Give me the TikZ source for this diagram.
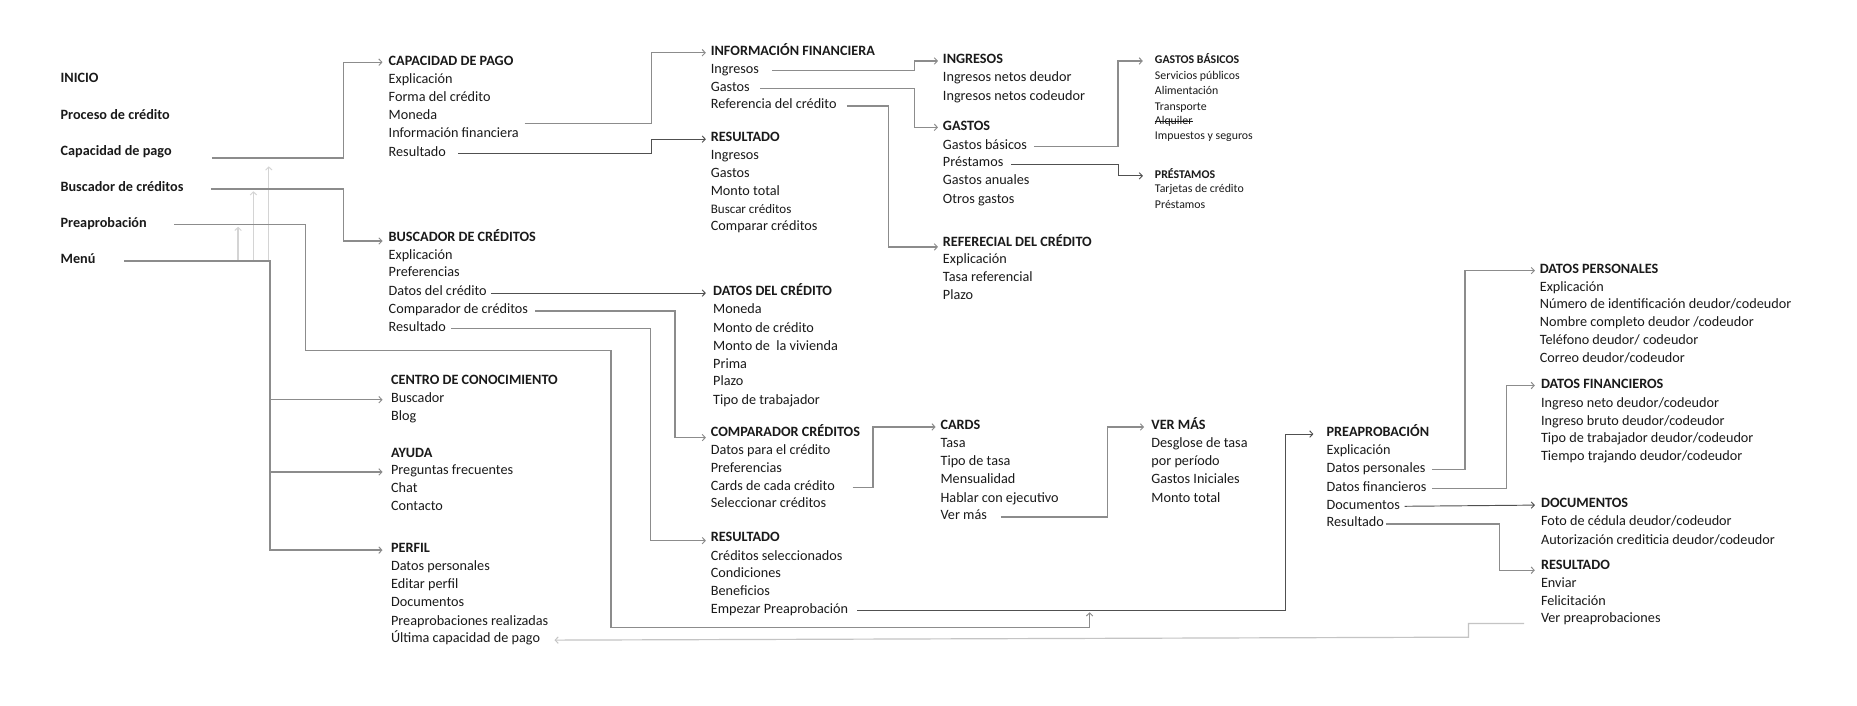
\documentclass[tikz,border=0pt]{standalone}
\usepackage{fontspec}
\setmainfont{Carlito}
\usetikzlibrary{arrows.meta,calc}
\definecolor{txt}{HTML}{1A1A1A}
\definecolor{lg}{HTML}{8C8C8C}
\definecolor{dk}{HTML}{505050}
\definecolor{vl}{HTML}{D4D4D4}
\definecolor{fb}{HTML}{C4C4C4}
\begin{document}
\begin{tikzpicture}[x=1pt,y=-1pt,
  it/.style={anchor=mid west,inner sep=0pt,yshift=-2.5pt,text=txt,font=\fontsize{12}{14}\selectfont},
  hd/.style={it,font=\fontsize{12}{14}\selectfont\bfseries},
  sm/.style={it,font=\fontsize{10}{12}\selectfont},
  smhd/.style={it,font=\fontsize{10}{12}\selectfont\bfseries},
  md/.style={it,font=\fontsize{11}{12}\selectfont},
  tipA/.style={-{Straight Barb[length=2.6pt,width=5.5pt,line width=0.8pt]}},
  conn/.style={draw=lg,line width=1.1pt,tipA},
  dconn/.style={draw=dk,line width=0.8pt,tipA},
  lconn/.style={draw=vl,line width=1pt,tipA},
  fconn/.style={draw=fb,line width=1pt,tipA}]
\useasboundingbox (0,0) rectangle (1568,596);
\fill[white] (0,0) rectangle (1568,596);

% left column
\node[hd] (inicio) at (51,65) {INICIO};
\node[hd] (proceso) at (51,96) {Proceso de crédito};
\node[hd] (capacidad) at (51,126) {Capacidad de pago};
\node[hd] (buscador) at (51,157) {Buscador de créditos};
\node[hd] (preap) at (51,187) {Preaprobación};
\node[hd] (menu) at (51,218) {Menú};

% capacidad de pago
\node[hd] (cpH) at (328,50) {CAPACIDAD DE PAGO};
\node[it] (cp1) at (328,66) {Explicación};
\node[it] (cp2) at (328,81) {Forma del crédito};
\node[it] (cp3) at (328,96) {Moneda};
\node[it] (cp4) at (328,111) {Información financiera};
\node[it] (cp5) at (328,127) {Resultado};

% informacion financiera
\node[hd] (ifH) at (600,42) {INFORMACIÓN FINANCIERA};
\node[it] (if1) at (600,57) {Ingresos};
\node[it] (if2) at (600,72) {Gastos};
\node[it] (if3) at (600,87) {Referencia del crédito};

% resultado 1
\node[hd] (r1H) at (600,115) {RESULTADO};
\node[it] (r11) at (600,130) {Ingresos};
\node[it] (r12) at (600,145) {Gastos};
\node[it] (r13) at (600,160) {Monto total};
\node[md] (r14) at (600,175) {Buscar créditos};
\node[it] (r15) at (600,190) {Comparar créditos};

% ingresos
\node[hd] (ingH) at (796,49) {INGRESOS};
\node[it] (ing1) at (796,64) {Ingresos netos deudor};
\node[it] (ing2) at (796,80) {Ingresos netos codeudor};

% gastos
\node[hd] (gasH) at (796,105) {GASTOS};
\node[it] (gas1) at (796,121) {Gastos básicos};
\node[it] (gas2) at (796,136) {Préstamos};
\node[it] (gas3) at (796,151) {Gastos anuales};
\node[it] (gas4) at (796,167) {Otros gastos};

% gastos basicos
\node[smhd] (gbH) at (975,49) {GASTOS BÁSICOS};
\node[sm] (gb1) at (975,62) {Servicios públicos};
\node[sm] (gb2) at (975,75) {Alimentación};
\node[sm] (gb3) at (975,88) {Transporte};
\node[sm] (gb4) at (975,100) {Alquiler};
\node[sm] (gb5) at (975,113) {Impuestos y seguros};
\draw[txt,line width=0.6pt] (gb4.mid west) -- (gb4.mid east);

% prestamos
\node[smhd] (prH) at (975,146) {PRÉSTAMOS};
\node[sm] (pr1) at (975,158) {Tarjetas de crédito};
\node[sm] (pr2) at (975,171) {Préstamos};

% referencial
\node[hd] (refH) at (796,203) {REFERECIAL DEL CRÉDITO};
\node[it] (ref1) at (796,218) {Explicación};
\node[it] (ref2) at (796,233) {Tasa referencial};
\node[it] (ref3) at (796,248) {Plazo};

% buscador de creditos
\node[hd] (bcH) at (328,199) {BUSCADOR DE CRÉDITOS};
\node[it] (bc1) at (328,214) {Explicación};
\node[it] (bc2) at (328,229) {Preferencias};
\node[it] (bc3) at (328,245) {Datos del crédito};
\node[it] (bc4) at (328,260) {Comparador de créditos};
\node[it] (bc5) at (328,275) {Resultado};

% datos del credito
\node[hd] (dcH) at (602,245) {DATOS DEL CRÉDITO};
\node[it] (dc1) at (602,260) {Moneda};
\node[it] (dc2) at (602,276) {Monto de crédito};
\node[it] (dc3) at (602,291) {Monto de\ \ la vivienda};
\node[it] (dc4) at (602,306) {Prima};
\node[it] (dc5) at (602,321) {Plazo};
\node[it] (dc6) at (602,337) {Tipo de trabajador};

% comparador
\node[hd] (ccH) at (600,364) {COMPARADOR CRÉDITOS};
\node[it] (cc1) at (600,379) {Datos para el crédito};
\node[it] (cc2) at (600,394) {Preferencias};
\node[it] (cc3) at (600,409) {Cards de cada crédito};
\node[it] (cc4) at (600,424) {Seleccionar créditos};

% cards
\node[hd] (cdH) at (794,358) {CARDS};
\node[it] (cd1) at (794,373) {Tasa};
\node[it] (cd2) at (794,388) {Tipo de tasa};
\node[it] (cd3) at (794,403) {Mensualidad};
\node[it] (cd4) at (794,419) {Hablar con ejecutivo};
\node[it] (cd5) at (794,434) {Ver más};

% ver mas
\node[hd] (vmH) at (972,358) {VER MÁS};
\node[it] (vm1) at (972,373) {Desglose de tasa};
\node[it] (vm2) at (972,388) {por período};
\node[it] (vm3) at (972,403) {Gastos Iniciales};
\node[it] (vm4) at (972,419) {Monto total};

% resultado 2
\node[hd] (r2H) at (600,452) {RESULTADO};
\node[it] (r21) at (600,468) {Créditos seleccionados};
\node[it] (r22) at (600,483) {Condiciones};
\node[it] (r23) at (600,498) {Beneficios};
\node[it] (r24) at (600,513) {Empezar Preaprobación};

% centro de conocimiento
\node[hd] (cenH) at (330,320) {CENTRO DE CONOCIMIENTO};
\node[it] (cen1) at (330,335) {Buscador};
\node[it] (cen2) at (330,350) {Blog};

% ayuda
\node[hd] (ayH) at (330,381) {AYUDA};
\node[it] (ay1) at (330,396) {Preguntas frecuentes};
\node[it] (ay2) at (330,411) {Chat};
\node[it] (ay3) at (330,426) {Contacto};

% perfil
\node[hd] (pfH) at (330,462) {PERFIL};
\node[it] (pf1) at (330,477) {Datos personales};
\node[it] (pf2) at (330,492) {Editar perfil};
\node[it] (pf3) at (330,507) {Documentos};
\node[it] (pf4) at (330,523) {Preaprobaciones realizadas};
\node[it] (pf5) at (330,538) {Última capacidad de pago};

% preaprobacion
\node[hd] (paH) at (1120,364) {PREAPROBACIÓN};
\node[it] (pa1) at (1120,379) {Explicación};
\node[it] (pa2) at (1120,394) {Datos personales};
\node[it] (pa3) at (1120,410) {Datos financieros};
\node[it] (pa4) at (1120,425) {Documentos};
\node[it] (pa5) at (1120,440) {Resultado};

% datos personales
\node[hd] (dpH) at (1300,226) {DATOS PERSONALES};
\node[it] (dp1) at (1300,241) {Explicación};
\node[it] (dp2) at (1300,256) {Número de identificación deudor/codeudor};
\node[it] (dp3) at (1300,271) {Nombre completo deudor /codeudor};
\node[it] (dp4) at (1300,286) {Teléfono deudor/ codeudor};
\node[it] (dp5) at (1300,301) {Correo deudor/codeudor};

% datos financieros
\node[hd] (dfH) at (1301,323) {DATOS FINANCIEROS};
\node[it] (df1) at (1301,339) {Ingreso neto deudor/codeudor};
\node[it] (df2) at (1301,354) {Ingreso bruto deudor/codeudor};
\node[it] (df3) at (1301,369) {Tipo de trabajador deudor/codeudor};
\node[it] (df4) at (1301,384) {Tiempo trajando deudor/codeudor};

% documentos
\node[hd] (docH) at (1301,424) {DOCUMENTOS};
\node[it] (doc1) at (1301,439) {Foto de cédula deudor/codeudor};
\node[it] (doc2) at (1301,455) {Autorización crediticia deudor/codeudor};

% resultado 3
\node[hd] (r3H) at (1301,476) {RESULTADO};
\node[it] (r31) at (1301,491) {Enviar};
\node[it] (r32) at (1301,506) {Felicitación};
\node[it] (r33) at (1301,521) {Ver preaprobaciones};

% ---------- connectors ----------
% light upward arrows
\draw[lconn] (201,0 |- menu.mid) -- ($(201,0 |- preap.mid)+(0,2)$);
\draw[lconn] (214,0 |- menu.mid) -- ($(214,0 |- buscador.mid)+(0,2)$);
\draw[lconn] (227,0 |- menu.mid) -- ($(227,0 |- capacidad.mid)+(0,12)$);

\draw[conn] ($(179,0 |- capacidad.mid)+(0,5)$) -| (290,0 |- cpH.mid) -- ([xshift=-5pt]cpH.mid west);
\draw[conn] (178,0 |- buscador.mid) -| ($(290,0 |- bcH.mid)+(0,2)$) -- ($([xshift=-5pt]bcH.mid west)+(0,2)$);
\coordinate (merge) at (920,517);
\draw[conn] (147,0 |- preap.mid) -| (258,296) -| (516,530) -| (merge);
\draw[conn] (105,0 |- menu.mid) -| (228,0 |- pfH.mid) -- ([xshift=-7pt]pfH.mid west);
\draw[conn] (228,0 |- cen1.mid) -- ([xshift=-7pt]cen1.mid west);
\draw[conn] (228,0 |- ay1.mid) -- ([xshift=-7pt]ay1.mid west);

\draw[conn] ($(443,0 |- cp4.mid)+(0,-9)$) -| (550,0 |- ifH.mid) -- ([xshift=-4pt]ifH.mid west);
\draw[dconn] (387,0 |- cp5.mid) -| (550,0 |- r1H.mid) -- ([xshift=-4pt]r1H.mid west);
\draw[conn] (652,0 |- if1.mid) -| (772,0 |- ingH.mid) -- ([xshift=-4pt]ingH.mid west);
\draw[conn] (642,0 |- if2.mid) -| (772,0 |- gasH.mid) -- ([xshift=-4pt]gasH.mid west);
\draw[conn] (715,0 |- if3.mid) -| ($(750,0 |- refH.mid)+(0,3)$) -- ($([xshift=-4pt]refH.mid west)+(0,3)$);
\draw[conn] (873,0 |- gas1.mid) -| (944,0 |- gbH.mid) -- ([xshift=-10pt]gbH.mid west);
\draw[dconn] (854,0 |- gas2.mid) -| (944,0 |- prH.mid) -- ([xshift=-10pt]prH.mid west);

\draw[dconn] (415,0 |- bc3.mid) -- ([xshift=-6pt]dcH.mid west);
\draw[conn] (452,0 |- bc4.mid) -| ($(570,0 |- ccH.mid)+(0,3)$) -- ($([xshift=-4pt]ccH.mid west)+(0,3)$);
\draw[conn] (381,0 |- bc5.mid) -| ($(549,0 |- r2H.mid)+(0,2)$) -- ($([xshift=-4pt]r2H.mid west)+(0,2)$);
\draw[conn] (720,0 |- cc3.mid) -| (737,0 |- cdH.mid) -- ([xshift=-4pt]cdH.mid west);
\draw[conn] (845,0 |- cd5.mid) -| (935,0 |- vmH.mid) -- ([xshift=-6pt]vmH.mid west);
\draw[dconn] (724,0 |- r24.mid) -| (1085,0 |- paH.mid) -- ([xshift=-11pt]paH.mid west);

\draw[conn] (1209,0 |- pa2.mid) -| (1237,0 |- dpH.mid) -- ([xshift=-4pt]dpH.mid west);
\draw[conn] (1209,0 |- pa3.mid) -| (1272,0 |- dfH.mid) -- ([xshift=-5pt]dfH.mid west);
\draw[dconn] (1186,0 |- pa4.mid) -- ([xshift=-5pt]docH.mid west);
\draw[conn] (1170,0 |- pa5.mid) -| ($(1266,0 |- r3H.mid)+(0,3)$) -- ($([xshift=-5pt]r3H.mid west)+(0,3)$);

\draw[fconn] ($(1287,0 |- r33.mid)+(0,3)$) -| (1240,538) -- ([xshift=12pt]pf5.mid east);
\end{tikzpicture}
\end{document}
